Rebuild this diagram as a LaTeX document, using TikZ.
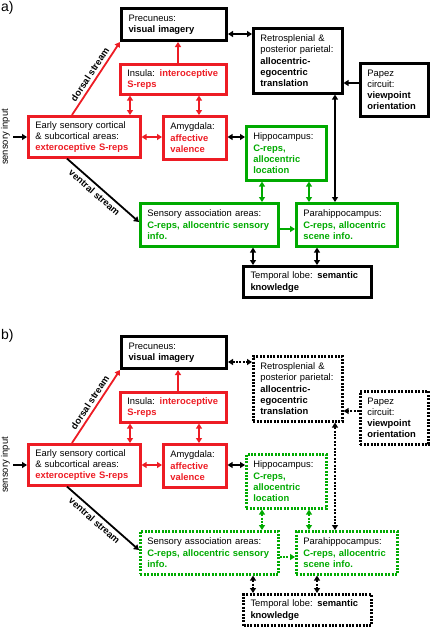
\documentclass[tikz,border=0pt]{standalone}
\usepackage{fontspec}
\setmainfont{Liberation Sans}
\usetikzlibrary{arrows.meta}
\definecolor{myred}{RGB}{237,28,36}
\definecolor{mygreen}{RGB}{0,170,0}
\newcommand\boxfont{\fontsize{9.4pt}{11.2pt}\selectfont}
\newcommand\redb[1]{\textcolor{myred}{\textbf{#1}}}
\newcommand\grnb[1]{\textcolor{mygreen}{\textbf{#1}}}

\begin{document}
\begin{tikzpicture}[x=1pt, y=-1pt, >={Triangle[length=5pt,width=6pt]},
  box/.style={draw, line width=2.6pt, inner xsep=7pt, inner ysep=0pt, anchor=north west, align=left, font=\boxfont},
  redbox/.style={box, draw=myred},
  grnbox/.style={box, draw=mygreen},
  link/.style={line width=1.8pt},
  stream/.style={sloped, text=black, font=\boxfont\bfseries, inner sep=3pt},
  dotline/.style={dash pattern=on 2pt off 1.4pt}]

\useasboundingbox (0,0) rectangle (431,627);

\foreach \p/\dy/\ls in {a/0/solid, b/328/dotline}{
\begin{scope}[shift={(0,\dy)}, cl/.style/.expanded={\ls}]
\node[anchor=north west, inner sep=0pt, font=\fontsize{14pt}{16pt}\selectfont] (lab\p) at (1,1) {\p)};

% boxes
\node[box, line width=3pt, minimum width=105pt, minimum height=32pt, text width=91pt] (pre\p) at (120,7)
  {Precuneus:\\\textbf{visual imagery}};
\node[box, cl, minimum width=89pt, minimum height=65pt, text width=75pt] (ret\p) at (252,27)
  {Retrosplenial \&\\posterior parietal:\\\textbf{allocentric-}\\\textbf{egocentric}\\\textbf{translation}};
\node[box, cl, minimum width=68pt, minimum height=53pt, text width=54pt] (pap\p) at (359,62)
  {Papez\\circuit:\\\textbf{viewpoint}\\\textbf{orientation}};
\node[redbox, minimum width=106pt, minimum height=30pt, text width=92pt] (ins\p) at (119,63)
  {Insula: \redb{interoceptive}\\\redb{S-reps}};
\node[redbox, minimum width=112pt, minimum height=41pt, text width=98pt] (early\p) at (27,115)
  {Early sensory cortical\\\& subcortical areas:\\\redb{exteroceptive S-reps}};
\node[redbox, minimum width=63pt, minimum height=43pt, text width=49pt] (amy\p) at (162,115)
  {Amygdala:\\\redb{affective}\\\redb{valence}};
\node[grnbox, cl, minimum width=80pt, minimum height=54pt, text width=66pt] (hip\p) at (245,125)
  {Hippocampus:\\\grnb{C-reps,}\\\grnb{allocentric}\\\grnb{location}};
\node[grnbox, cl, minimum width=138pt, minimum height=43pt, text width=124pt] (sen\p) at (139,202)
  {Sensory association areas:\\\grnb{C-reps, allocentric sensory}\\\grnb{info.}};
\node[grnbox, cl, minimum width=101pt, minimum height=43pt, text width=87pt] (par\p) at (295,202)
  {Parahippocampus:\\\grnb{C-reps, allocentric}\\\grnb{scene info.}};
\node[box, cl, line width=3pt, minimum width=128pt, minimum height=31pt, text width=114pt] (tem\p) at (242,265)
  {Temporal lobe: \textbf{semantic}\\\textbf{knowledge}};
\node[rotate=90, anchor=south, inner sep=0pt, font=\boxfont] (in\p) at (10,137) {sensory input};

% connectors
\draw[link, ->, shorten <=3pt] (in\p.south) -- (in\p.south -| early\p.west);
\draw[link, myred, ->] (early\p.north -| 72,0) -- node[stream, above] (dor\p) {dorsal stream} (pre\p.south west);
\draw[link, ->] (early\p.south -| 67,0) -- node[stream, below, pos=0.45] (ven\p) {ventral stream} (sen\p.west |- 0,222);
\draw[link, myred, ->] (ins\p.north -| 178,0) -- (pre\p.south -| 178,0);
\draw[link, myred, <->] (ins\p.south -| 130,0) -- (early\p.north -| 130,0);
\draw[link, myred, <->] (ins\p.south -| 199,0) -- (amy\p.north -| 199,0);
\draw[link, myred, <->] (early\p.east |- 0,137) -- (amy\p.west |- 0,137);
\draw[link, <->] (amy\p.east |- 0,137) -- (hip\p.west |- 0,137);
\draw[link, cl, <->] (pre\p.east |- 0,34) -- (ret\p.west |- 0,34);
\draw[link, cl, ->] (pap\p.west |- 0,83) -- (ret\p.east |- 0,83);
\draw[link, cl, <->] (ret\p.south -| 335,0) -- (par\p.north -| 335,0);
\draw[link, cl, mygreen, <->] (hip\p.south -| 262,0) -- (sen\p.north -| 262,0);
\draw[link, cl, mygreen, <->] (hip\p.south -| 309,0) -- (par\p.north -| 309,0);
\draw[link, cl, mygreen, ->] (sen\p.east |- 0,229) -- (par\p.west |- 0,229);
\draw[link, cl, <->] (sen\p.south -| 253,0) -- (tem\p.north -| 253,0);
\draw[link, cl, <->] (par\p.south -| 317,0) -- (tem\p.north -| 317,0);
\end{scope}
}
\end{tikzpicture}
\end{document}
